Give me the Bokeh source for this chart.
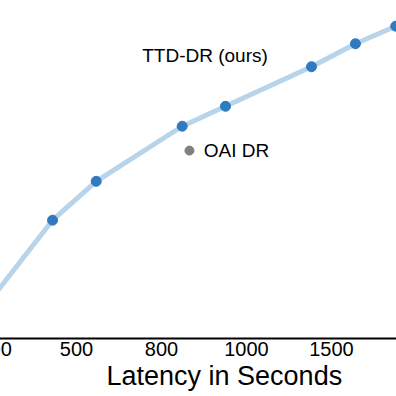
from bokeh.plotting import figure
from bokeh.models import Range1d, Label, FixedTicker, Title
from bokeh.embed import file_html
from bokeh.resources import INLINE

# Data (x in tick-index units: evenly spaced custom latency ticks)
tick_pos = [0, 1, 2, 3, 4, 5]
tick_labels = ["300", "500", "800", "1000", "1500", "2000"]

ttd_x = [-0.247, 0.718, 1.232, 2.244, 2.753, 3.765, 4.282, 4.756, 5.282]
ttd_y = [3.8, 35.0, 46.5, 62.8, 68.7, 80.4, 87.2, 92.4, 98.3]

oai_x = [2.329]
oai_y = [55.6]

FONT = "Liberation Sans"

p = figure(width=418, height=396, output_backend="svg", toolbar_location=None,
           x_range=Range1d(-0.153, 4.765), y_range=Range1d(0, 100),
           y_axis_location=None, min_border_left=0, min_border_right=0,
           min_border_top=0, min_border_bottom=58,
           styles={"position": "absolute", "left": "-22px", "top": "0px"})
p.outline_line_color = None
p.xgrid.visible = False
p.ygrid.visible = False
p.background_fill_color = "white"

ax = p.xaxis[0]
ax.ticker = FixedTicker(ticks=tick_pos)
ax.major_label_overrides = {t: l for t, l in zip(tick_pos, tick_labels)}
ax.major_tick_in = 0
ax.major_tick_out = 0
ax.minor_tick_in = 0
ax.minor_tick_out = 0
ax.axis_line_color = "black"
ax.axis_line_width = 2
ax.major_label_standoff = 3
ax.major_label_text_font = FONT
ax.major_label_text_font_size = "20px"
ax.major_label_text_color = "black"

p.line(ttd_x, ttd_y, line_width=5, line_color="#b8d4ea")
p.scatter(ttd_x, ttd_y, size=10, fill_color="#2f7ac0", line_color="#2f7ac0")
p.scatter(oai_x, oai_y, size=9, fill_color="#808080", line_color="#808080")

p.add_layout(Label(x=1.773, y=83.6, text="TTD-DR (ours)", text_font=FONT,
                   text_font_size="19px", text_color="black",
                   text_baseline="alphabetic", text_align="left"))
p.add_layout(Label(x=2.498, y=55.7, text="OAI DR", text_font=FONT,
                   text_font_size="19px", text_color="black",
                   text_baseline="alphabetic", text_align="left"))
p.add_layout(Title(text="Latency in Seconds", text_font=FONT,
                   text_font_size="27px", text_font_style="normal",
                   text_color="black", align="left", offset=128, standoff=0),
             "below")

open("out.html", "w").write(file_html(p, INLINE))
